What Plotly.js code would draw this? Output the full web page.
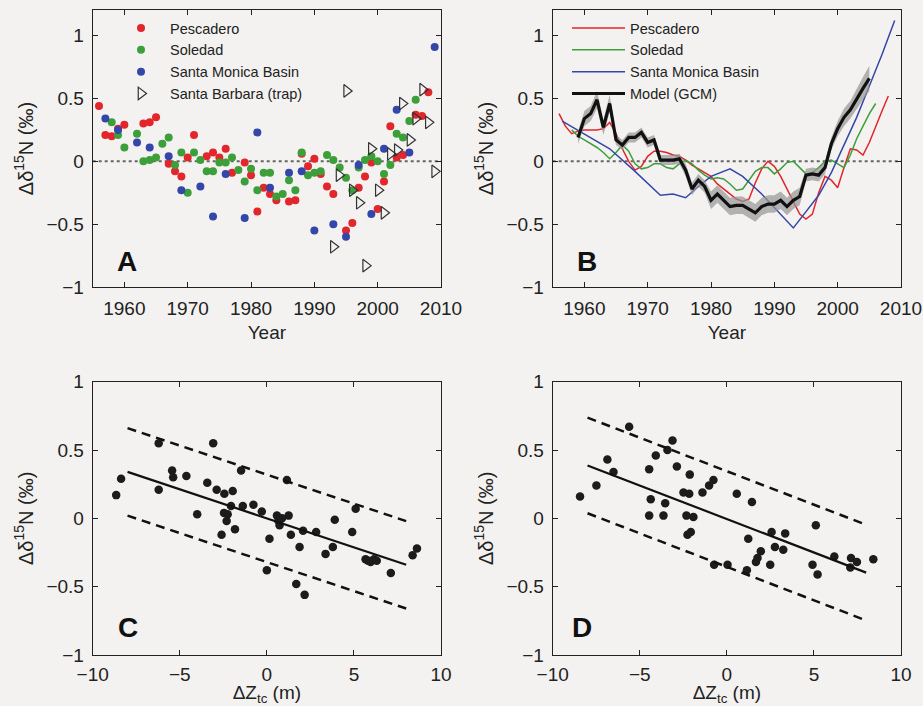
<!DOCTYPE html>
<html>
<head>
<meta charset="utf-8">
<script src="https://cdn.plot.ly/plotly-3.0.1.min.js"></script>
<style>html,body{margin:0;padding:0;background:#f3f2f0;}#chart{width:923px;height:706px;}</style>
</head>
<body>
<div id="chart"></div>
<script>
// ---------- Panel A: annual data points ----------
const pescaderoYear = [1956,1957,1958,1959,1960,1963,1964,1965,1967,1968,1969,1970,1971,1973,1974,1975,1976,1977,1979,1980,1981,1982,1983,1984,1986,1987,1988,1989,1990,1991,1992,1993,1995,1996,1997,1998,1999,2000,2001,2002,2003,2004,2006,2007,2008];
const pescaderoVal  = [0.44,0.21,0.20,0.26,0.29,0.30,0.31,0.35,-0.02,-0.08,-0.12,0.03,0.21,0.04,0.07,0.03,0.10,-0.09,-0.01,-0.11,-0.40,-0.21,-0.26,-0.31,-0.32,-0.31,0.06,-0.04,0.02,-0.10,-0.20,-0.26,-0.55,-0.49,-0.21,-0.12,-0.01,-0.38,-0.16,0.28,0.03,0.05,0.37,0.36,0.55];
const soledadYear = [1958,1959,1960,1962,1963,1964,1965,1966,1967,1968,1969,1970,1971,1972,1973,1974,1975,1976,1977,1978,1979,1980,1981,1982,1983,1984,1985,1986,1987,1988,1989,1990,1991,1992,1993,1994,1995,1996,1997,1998,1999,2000,2001,2002,2003,2004,2005,2006];
const soledadVal  = [0.31,0.21,0.11,0.22,0.00,0.01,0.03,0.14,0.19,-0.03,0.07,-0.25,0.07,0.01,-0.08,-0.08,-0.01,-0.01,0.03,-0.07,-0.16,-0.06,-0.23,-0.09,-0.09,-0.28,-0.26,-0.15,-0.23,0.07,-0.11,-0.09,-0.08,0.05,0.01,-0.05,-0.13,-0.23,-0.05,0.01,0.04,0.00,-0.10,-0.03,0.22,0.19,0.32,0.49];
const smbYear = [1957,1959,1962,1964,1967,1969,1972,1974,1976,1979,1981,1983,1986,1988,1990,1993,1995,1997,1999,2001,2003,2005,2009];
const smbVal  = [0.34,0.25,0.15,0.11,0.04,-0.23,-0.20,-0.44,-0.10,-0.45,0.23,-0.21,-0.09,-0.08,-0.55,-0.50,-0.60,-0.03,-0.42,0.10,0.41,0.07,0.91];
const sbTrapYear = [1993.0,1993.9,1995.1,1996.0,1997.1,1998.1,1999.0,2000.1,2001.0,2002.0,2003.1,2003.9,2005.1,2006.0,2007.1,2008.0,2009.0,2010.2];
const sbTrapVal  = [-0.68,-0.11,0.56,-0.23,-0.33,-0.83,0.10,-0.23,-0.41,0.06,0.09,0.46,0.17,0.34,0.57,0.31,-0.08,0.22];

// ---------- Panel B: smoothed records and model ----------
const pescLineYear = [1956,1957,1958,1959,1960,1961,1962,1963,1964,1965,1966,1967,1968,1969,1970,1971,1972,1973,1974,1975,1976,1977,1978,1979,1980,1981,1982,1983,1984,1985,1986,1987,1988,1989,1990,1991,1992,1993,1994,1995,1996,1997,1998,1999,2000,2001,2002,2003,2004,2005,2006,2007,2008];
const pescLineVal  = [0.38,0.28,0.22,0.24,0.25,0.25,0.25,0.26,0.31,0.22,0.10,0.00,-0.07,-0.04,0.04,0.08,0.08,0.07,0.05,0.04,0.01,-0.03,-0.06,-0.09,-0.12,-0.18,-0.22,-0.26,-0.30,-0.32,-0.30,-0.17,-0.06,0.00,-0.04,-0.12,-0.22,-0.33,-0.42,-0.46,-0.42,-0.25,-0.12,-0.15,-0.21,-0.05,0.10,0.09,0.05,0.15,0.28,0.40,0.52];
const soleLineYear = [1958,1959,1960,1961,1962,1963,1964,1965,1966,1967,1968,1969,1970,1971,1972,1973,1974,1975,1976,1977,1978,1979,1980,1981,1982,1983,1984,1985,1986,1987,1988,1989,1990,1991,1992,1993,1994,1995,1996,1997,1998,1999,2000,2001,2002,2003,2004,2005,2006];
const soleLineVal  = [0.25,0.20,0.17,0.14,0.11,0.07,0.02,0.07,0.13,0.08,-0.02,-0.06,-0.05,-0.02,-0.02,-0.05,-0.06,-0.02,0.01,-0.02,-0.07,-0.11,-0.14,-0.13,-0.14,-0.18,-0.23,-0.22,-0.15,-0.08,-0.05,-0.05,-0.10,-0.06,-0.01,0.00,-0.05,-0.10,-0.09,-0.05,0.00,0.01,-0.02,-0.05,0.05,0.18,0.28,0.38,0.46];
const smbLineYear = [1956.5,1960,1964,1968,1972,1974,1976,1978,1980,1983,1985,1988,1991,1993,1995,1997,1999,2001,2003,2005,2007,2009];
const smbLineVal  = [0.32,0.22,0.10,-0.08,-0.27,-0.26,-0.29,-0.20,-0.12,-0.06,-0.12,-0.26,-0.42,-0.53,-0.40,-0.27,-0.09,0.13,0.35,0.60,0.85,1.12];
const modelYear = [1959,1960,1961,1962,1963,1964,1965,1966,1967,1968,1969,1970,1971,1972,1973,1974,1975,1976,1977,1978,1979,1980,1981,1982,1983,1984,1985,1986,1987,1988,1989,1990,1991,1992,1993,1994,1995,1996,1997,1998,1999,2000,2001,2002,2003,2004,2005];
const modelVal  = [0.19,0.34,0.38,0.49,0.27,0.46,0.17,0.13,0.19,0.19,0.23,0.15,0.17,0.01,0.01,0.01,0.02,-0.07,-0.22,-0.15,-0.20,-0.31,-0.26,-0.31,-0.36,-0.35,-0.35,-0.38,-0.41,-0.36,-0.34,-0.34,-0.31,-0.36,-0.31,-0.28,-0.11,-0.10,-0.11,-0.05,0.14,0.26,0.35,0.41,0.50,0.58,0.66];
const modelSpread = [0.05,0.06,0.06,0.07,0.06,0.07,0.04,0.04,0.04,0.04,0.04,0.04,0.04,0.04,0.04,0.04,0.04,0.05,0.05,0.05,0.05,0.07,0.07,0.07,0.07,0.07,0.07,0.07,0.07,0.07,0.07,0.07,0.07,0.07,0.07,0.07,0.05,0.05,0.05,0.05,0.05,0.06,0.07,0.07,0.08,0.09,0.10];

// ---------- Panel C and D: anomaly vs thermocline depth ----------
const cDz  = [-8.65,-8.37,-6.21,-6.21,-5.44,-5.38,-4.62,-4.0,-3.42,-3.08,-2.88,-2.44,-1.96,-2.6,-2.46,-2.31,-2.25,-2.06,-1.83,-1.48,-1.38,-0.77,-0.29,0,0.15,0.58,0.67,0.73,0.87,1.15,1.25,1.38,1.69,1.88,2.08,2.17,2.83,3.37,3.79,3.9,4.9,5.1,5.67,5.81,5.96,6.15,6.31,7.12,8.37,8.62];
const cVal = [0.17,0.29,0.55,0.21,0.35,0.30,0.31,0.03,0.26,0.55,0.21,0.18,0.20,-0.12,0.04,-0.02,0.03,0.09,-0.08,0.35,0.09,0.10,0.05,-0.38,-0.15,0.02,-0.02,-0.05,0.0,0.28,0.02,-0.12,-0.48,-0.21,-0.09,-0.56,-0.10,-0.26,-0.21,-0.01,-0.10,0.07,-0.30,-0.31,-0.32,-0.30,-0.31,-0.40,-0.27,-0.22];
const dDz  = [-8.43,-7.49,-6.86,-6.51,-5.61,-4.46,-4.37,-4.46,-4.08,-3.64,-3.54,-3.41,-3.12,-2.87,-2.49,-2.16,-2.13,-2.32,-1.92,-2.26,-2.07,-1.40,-1.02,-0.77,-0.73,0.04,0.57,1.15,1.23,1.44,1.67,1.76,1.95,2.49,2.57,2.76,3.24,3.35,4.92,5.11,5.21,6.17,7.09,7.13,7.47,8.41];
const dVal = [0.16,0.24,0.43,0.34,0.67,0.36,0.14,0.02,0.46,0.02,0.11,0.50,0.57,0.38,0.19,0.18,0.32,0.02,0.01,-0.12,-0.10,0.19,0.24,0.28,-0.34,-0.34,0.18,-0.38,-0.15,0.12,-0.32,-0.29,-0.24,-0.34,-0.10,-0.21,-0.23,-0.11,-0.34,-0.05,-0.41,-0.28,-0.36,-0.29,-0.32,-0.30];
const fitRange = [-8, 8];
const fitC = [-0.0425, 0.0, 0.32];   // slope, intercept, prediction half-width
const fitD = [-0.049, -0.005, 0.35];

const yTickVals = [-1, -0.5, 0, 0.5, 1];
const yearTicks = [1960, 1970, 1980, 1990, 2000, 2010];
const dzTicks = [-10, -5, 0, 5, 10];

const FONT = 'Liberation Sans, Arial, Helvetica, sans-serif';
const RED = '#e3262b', GREEN = '#3c9f3a', BLUE = '#3447a8';

function line(fit, off) { return fitRange.map(x => fit[0] * x + fit[1] + off); }

const traces = [];
// Panel A
traces.push({x: pescaderoYear, y: pescaderoVal, type: 'scatter', mode: 'markers', name: 'Pescadero', xaxis: 'x', yaxis: 'y', legend: 'legend', marker: {color: RED, size: 8}});
traces.push({x: soledadYear, y: soledadVal, type: 'scatter', mode: 'markers', name: 'Soledad', xaxis: 'x', yaxis: 'y', legend: 'legend', marker: {color: GREEN, size: 8}});
traces.push({x: smbYear, y: smbVal, type: 'scatter', mode: 'markers', name: 'Santa Monica Basin', xaxis: 'x', yaxis: 'y', legend: 'legend', marker: {color: BLUE, size: 8}});
traces.push({x: sbTrapYear, y: sbTrapVal, type: 'scatter', mode: 'markers', name: 'Santa Barbara (trap)', xaxis: 'x', yaxis: 'y', legend: 'legend', cliponaxis: false, marker: {symbol: 'triangle-right-open', color: '#333', size: 11, line: {width: 1.2}}});
// Panel B
traces.push({x: pescLineYear, y: pescLineVal, type: 'scatter', mode: 'lines', name: 'Pescadero', xaxis: 'x2', yaxis: 'y2', legend: 'legend2', line: {color: RED, width: 1.5}});
traces.push({x: soleLineYear, y: soleLineVal, type: 'scatter', mode: 'lines', name: 'Soledad', xaxis: 'x2', yaxis: 'y2', legend: 'legend2', line: {color: GREEN, width: 1.5}});
traces.push({x: smbLineYear, y: smbLineVal, type: 'scatter', mode: 'lines', name: 'Santa Monica Basin', xaxis: 'x2', yaxis: 'y2', legend: 'legend2', line: {color: BLUE, width: 1.5}});
traces.push({x: modelYear, y: modelVal.map((v, i) => v - modelSpread[i]), type: 'scatter', mode: 'lines', xaxis: 'x2', yaxis: 'y2', showlegend: false, hoverinfo: 'skip', line: {width: 0, color: 'rgba(0,0,0,0)'}});
traces.push({x: modelYear, y: modelVal.map((v, i) => v + modelSpread[i]), type: 'scatter', mode: 'lines', xaxis: 'x2', yaxis: 'y2', showlegend: false, hoverinfo: 'skip', fill: 'tonexty', fillcolor: 'rgba(150,150,150,0.7)', line: {width: 0, color: 'rgba(0,0,0,0)'}});
traces.push({x: modelYear, y: modelVal, type: 'scatter', mode: 'lines', name: 'Model (GCM)', xaxis: 'x2', yaxis: 'y2', legend: 'legend2', line: {color: '#111', width: 3.2}});
// Panel C
traces.push({x: cDz, y: cVal, type: 'scatter', mode: 'markers', xaxis: 'x3', yaxis: 'y3', showlegend: false, marker: {color: '#1c1c1c', size: 8.5}});
traces.push({x: fitRange, y: line(fitC, 0), type: 'scatter', mode: 'lines', xaxis: 'x3', yaxis: 'y3', showlegend: false, line: {color: '#111', width: 2.2}});
traces.push({x: fitRange, y: line(fitC, fitC[2]), type: 'scatter', mode: 'lines', xaxis: 'x3', yaxis: 'y3', showlegend: false, line: {color: '#111', width: 2.5, dash: '9px,6px'}});
traces.push({x: fitRange, y: line(fitC, -fitC[2]), type: 'scatter', mode: 'lines', xaxis: 'x3', yaxis: 'y3', showlegend: false, line: {color: '#111', width: 2.5, dash: '9px,6px'}});
// Panel D
traces.push({x: dDz, y: dVal, type: 'scatter', mode: 'markers', xaxis: 'x4', yaxis: 'y4', showlegend: false, marker: {color: '#1c1c1c', size: 8.5}});
traces.push({x: fitRange, y: line(fitD, 0), type: 'scatter', mode: 'lines', xaxis: 'x4', yaxis: 'y4', showlegend: false, line: {color: '#111', width: 2.2}});
traces.push({x: fitRange, y: line(fitD, fitD[2]), type: 'scatter', mode: 'lines', xaxis: 'x4', yaxis: 'y4', showlegend: false, line: {color: '#111', width: 2.5, dash: '9px,6px'}});
traces.push({x: fitRange, y: line(fitD, -fitD[2]), type: 'scatter', mode: 'lines', xaxis: 'x4', yaxis: 'y4', showlegend: false, line: {color: '#111', width: 2.5, dash: '9px,6px'}});

function ax(extra) {
  return Object.assign({
    showline: true, mirror: 'ticks', linecolor: '#222', linewidth: 1,
    ticks: 'inside', ticklen: 5, tickcolor: '#222', tickwidth: 1,
    showgrid: false, zeroline: false, fixedrange: true,
    tickfont: {family: FONT, size: 19, color: '#222'}, ticklabelstandoff: 4
  }, extra);
}
const yTitle = {text: 'Δδ<sup>15</sup>N (‰)', font: {family: FONT, size: 20, color: '#222'}, standoff: 7};
const W = 923, H = 706;
const colL = [92.7 / W, 441 / W], colR = [552.7 / W, 901 / W];
const rowT = [1 - 287 / H, 1 - 10 / H], rowB = [1 - 655 / H, 1 - 381.7 / H];
const legendFont = {family: FONT, size: 14.5, color: '#222'};
const dzTitle = {text: 'ΔZ<sub>tc</sub> (m)', font: {size: 19}, standoff: 8};

const layout = {
  width: W, height: H,
  paper_bgcolor: '#f3f2f0', plot_bgcolor: '#f3f2f0',
  margin: {l: 0, r: 0, t: 0, b: 0},
  font: {family: FONT, color: '#222'},
  xaxis: ax({domain: colL, anchor: 'y', range: [1955, 2010], tickvals: yearTicks, title: {text: 'Year', font: {size: 19}, standoff: 7}}),
  yaxis: ax({domain: rowT, anchor: 'x', range: [-1, 1.204], tickvals: yTickVals, title: yTitle}),
  xaxis2: ax({domain: colR, anchor: 'y2', range: [1955, 2010], tickvals: yearTicks, title: {text: 'Year', font: {size: 19}, standoff: 7}}),
  yaxis2: ax({domain: rowT, anchor: 'x2', range: [-1, 1.204], tickvals: yTickVals, title: yTitle}),
  xaxis3: ax({domain: colL, anchor: 'y3', range: [-10, 10], tickvals: dzTicks, ticklabelstandoff: 2, title: dzTitle}),
  yaxis3: ax({domain: rowB, anchor: 'x3', range: [-1, 1], tickvals: yTickVals, title: yTitle}),
  xaxis4: ax({domain: colR, anchor: 'y4', range: [-10, 10], tickvals: dzTicks, ticklabelstandoff: 2, title: dzTitle}),
  yaxis4: ax({domain: rowB, anchor: 'x4', range: [-1, 1], tickvals: yTickVals, title: yTitle}),
  legend: {x: 112 / W, xanchor: 'left', y: 1 - 12 / H, yanchor: 'top', bgcolor: 'rgba(0,0,0,0)', font: legendFont, tracegroupgap: 0, traceorder: 'normal', itemwidth: 48},
  legend2: {x: 567 / W, xanchor: 'left', y: 1 - 12 / H, yanchor: 'top', bgcolor: 'rgba(0,0,0,0)', font: legendFont, tracegroupgap: 0, traceorder: 'normal', itemwidth: 53},
  shapes: [
    {type: 'line', xref: 'x', yref: 'y', x0: 1955, x1: 2010, y0: 0, y1: 0, line: {color: '#666', width: 2, dash: 'dot'}, layer: 'below'},
    {type: 'line', xref: 'x2', yref: 'y2', x0: 1955, x1: 2010, y0: 0, y1: 0, line: {color: '#666', width: 2, dash: 'dot'}, layer: 'below'}
  ],
  annotations: [
    {text: '<b>A</b>', xref: 'x', yref: 'y', x: 1960.4, y: -0.8, showarrow: false, font: {family: 'Liberation Sans Narrow, Arial Narrow, ' + FONT, size: 28, color: '#111'}},
    {text: '<b>B</b>', xref: 'x2', yref: 'y2', x: 1960.4, y: -0.8, showarrow: false, font: {family: 'Liberation Sans Narrow, Arial Narrow, ' + FONT, size: 28, color: '#111'}},
    {text: '<b>C</b>', xref: 'x3', yref: 'y3', x: -8.0, y: -0.8, showarrow: false, font: {family: 'Liberation Sans Narrow, Arial Narrow, ' + FONT, size: 28, color: '#111'}},
    {text: '<b>D</b>', xref: 'x4', yref: 'y4', x: -8.3, y: -0.8, showarrow: false, font: {family: 'Liberation Sans Narrow, Arial Narrow, ' + FONT, size: 28, color: '#111'}}
  ]
};

Plotly.newPlot('chart', traces, layout, {displayModeBar: false, staticPlot: true});
</script>
</body>
</html>
